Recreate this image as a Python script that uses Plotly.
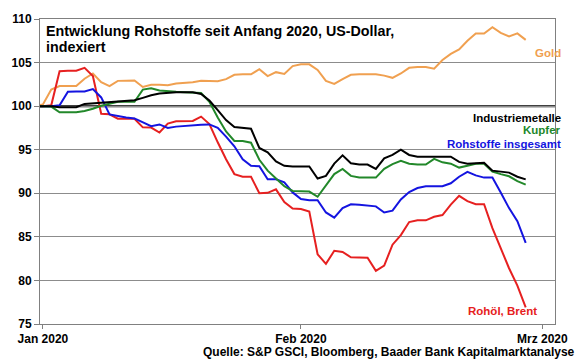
import pandas as pd
import plotly.graph_objects as go

dates = pd.date_range("2019-12-31", "2020-02-28", freq="D")

industriemetalle = [100, 100, 100, 99.88, 99.88, 99.88, 100.26, 100.32, 100.37, 100.45, 100.53, 100.6, 100.67,
                    100.95, 101.25, 101.45, 101.53, 101.6, 101.6, 101.6, 101.4, 100.65, 99.55, 98.4, 97.6, 97.5,
                    97.4, 95.2, 94.7, 93.65, 93.15, 93.07, 93.07, 93.07, 91.7, 92.0, 93.4, 94.35, 93.45, 93.3,
                    93.3, 92.8, 94.0, 94.4, 95.0, 94.4, 94.2, 94.2, 94.2, 94.2, 94.2, 93.6, 93.4, 93.45, 93.5,
                    92.6, 92.45, 92.37, 91.9, 91.6]
kupfer = [100, 100, 99.95, 99.3, 99.3, 99.3, 99.45, 99.7, 100.05, 100.3, 100.5, 100.5, 100.5, 101.9, 102.05,
          101.8, 101.7, 101.65, 101.6, 101.55, 101.5, 100.5, 98.7, 97.1, 96.0, 96.0, 95.8, 93.85, 92.6, 91.7,
          90.8, 90.27, 90.2, 90.2, 89.6, 90.9, 92.2, 92.8, 92.0, 91.8, 91.8, 91.8, 92.8, 93.35, 93.72, 93.4,
          93.3, 93.3, 93.95, 93.55, 93.4, 92.95, 93.15, 93.4, 93.4, 92.5, 92.2, 91.95, 91.4, 91.0]
rohstoffe = [100, 100, 100, 100.1, 101.65, 101.67, 101.68, 101.96, 101.0, 99.05, 98.84, 98.7, 98.59, 98.12,
             97.7, 97.9, 97.5, 97.65, 97.75, 97.8, 97.87, 97.9, 97.5, 96.5, 95.4, 93.9, 93.15, 93.1, 91.6, 91.6,
             91.25, 90.1, 89.35, 89.2, 89.2, 87.8, 87.2, 88.3, 88.73, 88.68, 88.6, 88.5, 87.8, 88.0, 89.3,
             90.15, 90.6, 90.8, 90.8, 90.8, 91.15, 91.9, 92.45, 92.05, 91.8, 91.8, 90.1, 88.3, 86.8, 84.3]
brent = [100, 100, 100.1, 104.0, 104.06, 104.06, 104.4, 103.45, 99.13, 99.07, 98.56, 98.56, 98.56, 97.57,
         97.54, 96.97, 98.0, 98.26, 98.28, 98.3, 98.8, 97.95, 95.85, 93.9, 92.2, 91.9, 91.9, 90.0, 90.05,
         90.45, 89.0, 88.25, 88.2, 87.9, 83.0, 81.9, 83.4, 83.26, 82.66, 82.6, 82.6, 81.1, 81.7, 84.1, 85.2,
         86.7, 86.9, 86.9, 87.3, 87.5, 88.7, 89.7, 89.1, 88.75, 88.75, 86.0, 83.6, 81.4, 79.4, 76.9]
gold = [100, 100.2, 101.9, 102.3, 102.3, 102.3, 103.15, 103.75, 102.75, 102.3, 102.9, 102.95, 102.95, 102.2,
        102.45, 102.45, 102.4, 102.6, 102.67, 102.73, 102.9, 102.87, 102.85, 103.1, 103.6, 103.65, 103.65,
        104.25, 103.45, 103.9, 103.7, 104.6, 104.8, 104.8, 104.15, 102.9, 102.55, 103.1, 103.6, 103.67,
        103.67, 103.67, 103.5, 103.25, 103.75, 104.4, 104.5, 104.5, 104.3, 105.3, 106.0, 106.5, 107.5,
        108.33, 108.33, 109.05, 108.4, 108.0, 108.35, 107.6]

y_ticks = [75, 80, 85, 90, 95, 100, 105, 110]
x_tickvals = ["2020-01-01", "2020-02-01", "2020-03-01"]
x_ticktext = ["Jan 2020", "Feb 2020", "Mrz 2020"]

FONT = "Liberation Sans, Arial, sans-serif"
C_RED = "#e62020"
C_BLUE = "#1414e0"
C_GREEN = "#22882a"
C_BLACK = "#000000"
C_GOLD = "#f0a050"

series = [
    ("Gold", gold, C_GOLD),
    ("Rohöl, Brent", brent, C_RED),
    ("Rohstoffe insgesamt", rohstoffe, C_BLUE),
    ("Kupfer", kupfer, C_GREEN),
    ("Industriemetalle", industriemetalle, C_BLACK),
]

fig = go.Figure()
for name, vals, col in series:
    fig.add_trace(go.Scatter(x=dates, y=vals, mode="lines", name=name,
                             line=dict(color=col, width=2), showlegend=False, hoverinfo="skip"))

fig.add_shape(type="line", xref="paper", x0=0, x1=1, yref="y", y0=100, y1=100,
              line=dict(color="black", width=2), layer="below")

fig.update_layout(
    width=580, height=359,
    margin=dict(l=36, r=17, t=16, b=35),
    paper_bgcolor="white", plot_bgcolor="white",
    font=dict(family=FONT, size=12, color="black"),
    hovermode=False,
)
fig.update_xaxes(
    range=["2019-12-31 15:33", "2020-03-02 12:29"],
    tickvals=x_tickvals, ticktext=x_ticktext,
    tickfont=dict(family=FONT, size=12, weight="bold", color="black"),
    ticks="outside", ticklen=4, tickcolor="#808080",
    showgrid=False, showline=True, linecolor="#808080", linewidth=1, mirror=True,
    zeroline=False,
)
fig.update_yaxes(
    range=[75, 110], tickvals=y_ticks,
    tickfont=dict(family=FONT, size=12, weight="bold", color="black"),
    ticks="outside", ticklen=5, tickcolor="#808080",
    showgrid=True, gridcolor="#8c8c8c", gridwidth=1,
    showline=True, linecolor="#808080", linewidth=1, mirror=True,
    zeroline=False,
)

# title, two lines
fig.add_annotation(xref="paper", yref="paper", x=0.008, y=(324 - 28) / 308, xanchor="left", yanchor="middle",
                   text="<b>Entwicklung Rohstoffe seit Anfang 2020, US-Dollar,</b>",
                   showarrow=False, align="left", font=dict(family=FONT, size=14.3, color="black"))
fig.add_annotation(xref="paper", yref="paper", x=0.008, y=(324 - 44) / 308, xanchor="left", yanchor="middle",
                   text="<b>indexiert</b>",
                   showarrow=False, align="left", font=dict(family=FONT, size=14.3, color="black"))

labels = [
    ("Gold", 1.015, 106.1, C_GOLD),
    ("Industriemetalle", 1.015, 98.65, C_BLACK),
    ("Kupfer", 1.015, 97.3, C_GREEN),
    ("Rohstoffe insgesamt", 1.015, 95.7, C_BLUE),
    ("Rohöl, Brent", 0.968, 76.5, C_RED),
]
for txt, xp, yv, col in labels:
    fig.add_annotation(xref="paper", yref="y", x=xp, y=yv, xanchor="right", yanchor="middle",
                       text=f"<b>{txt}</b>", showarrow=False,
                       font=dict(family=FONT, size=11.5, color=col))

fig.add_annotation(xref="paper", yref="paper", x=1.042, y=(324 - 352) / 308, xanchor="right", yanchor="middle",
                   text="<b>Quelle: S&P GSCI, Bloomberg, Baader Bank Kapitalmarktanalyse</b>",
                   showarrow=False, font=dict(family=FONT, size=12, color="black"))

fig.write_html("out.html", config={"displayModeBar": False, "staticPlot": True},
               post_script="document.body.style.margin='0';document.body.style.overflow='hidden';")
